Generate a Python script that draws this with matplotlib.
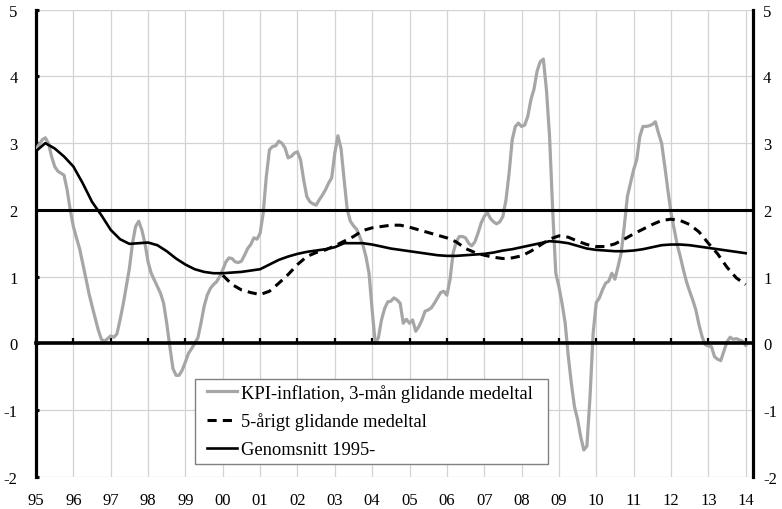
import numpy as np
import matplotlib
matplotlib.use("Agg")
import matplotlib.pyplot as plt
from matplotlib.patches import Rectangle

plt.rcParams['font.family'] = ['Liberation Serif', 'DejaVu Serif']

# ---- data ----
start_year = 1995
# KPI-inflation, 3-month moving average, monthly Jan 1995 - Jan 2014
kpi = [
    2.91, 2.98, 3.05, 3.08, 3.0, 2.8, 2.65, 2.58, 2.55, 2.52, 2.3, 2.0,
    1.75, 1.58, 1.42, 1.2, 0.98, 0.75, 0.56, 0.38, 0.2, 0.06, 0.03, 0.07,
    0.11, 0.09, 0.14, 0.35, 0.58, 0.85, 1.12, 1.5, 1.75, 1.83, 1.7, 1.5,
    1.22, 1.05, 0.95, 0.85, 0.75, 0.6, 0.3, -0.05, -0.38, -0.48, -0.48, -0.4,
    -0.28, -0.15, -0.08, 0.0, 0.08, 0.3, 0.55, 0.72, 0.82, 0.88, 0.92, 1.0,
    1.1, 1.22, 1.28, 1.27, 1.22, 1.21, 1.23, 1.32, 1.42, 1.48, 1.58, 1.56,
    1.65, 1.95, 2.5, 2.9, 2.95, 2.96, 3.03, 3.0, 2.93, 2.78, 2.8, 2.85,
    2.87, 2.75, 2.45, 2.2, 2.12, 2.09, 2.07, 2.15, 2.22, 2.3, 2.4, 2.48,
    2.85, 3.11, 2.92, 2.45, 2.0, 1.83, 1.76, 1.71, 1.6, 1.48, 1.3, 1.05,
    0.5, 0.0, 0.08, 0.35, 0.52, 0.62, 0.63, 0.68, 0.65, 0.6, 0.3, 0.36,
    0.3, 0.35, 0.18, 0.25, 0.35, 0.48, 0.5, 0.53, 0.6, 0.68, 0.76, 0.78,
    0.72, 0.95, 1.35, 1.52, 1.6, 1.6, 1.58, 1.5, 1.46, 1.52, 1.65, 1.8,
    1.9, 1.96, 1.87, 1.82, 1.79, 1.82, 1.9, 2.15, 2.55, 3.05, 3.25, 3.3,
    3.25, 3.27, 3.4, 3.65, 3.81, 4.08, 4.22, 4.26, 3.8, 3.1, 2.0, 1.05,
    0.85, 0.6, 0.31, -0.19, -0.6, -0.95, -1.14, -1.4, -1.6, -1.54, -0.8, 0.15,
    0.61, 0.68, 0.8, 0.9, 0.93, 1.05, 0.96, 1.15, 1.35, 1.75, 2.2, 2.4,
    2.6, 2.75, 3.1, 3.25, 3.25, 3.26, 3.28, 3.32, 3.15, 3.0, 2.66, 2.3,
    1.96, 1.72, 1.48, 1.3, 1.1, 0.92, 0.78, 0.65, 0.5, 0.28, 0.1, -0.02,
    -0.04, -0.05, -0.2, -0.24, -0.26, -0.12, 0.02, 0.09, 0.06, 0.07, 0.05, 0.03,
    -0.03,
]

# Average since 1995, read quarterly (every 3 months from Jan 1995)
avg_since_1995 = [
    2.88, 3.0, 2.92, 2.8, 2.65, 2.4, 2.12, 1.92, 1.7, 1.56,
    1.49, 1.5, 1.51, 1.47, 1.38, 1.27, 1.18, 1.11, 1.07, 1.05,
    1.05, 1.06, 1.07, 1.09, 1.11, 1.18, 1.25, 1.3, 1.34, 1.37,
    1.39, 1.41, 1.44, 1.5, 1.5, 1.5, 1.48, 1.45, 1.42, 1.4,
    1.38, 1.36, 1.34, 1.32, 1.31, 1.31, 1.32, 1.33, 1.34, 1.36,
    1.39, 1.41, 1.44, 1.47, 1.5, 1.53, 1.52, 1.5, 1.46, 1.42,
    1.4, 1.39, 1.38, 1.38, 1.39, 1.41, 1.44, 1.47, 1.48, 1.48,
    1.47, 1.45, 1.43, 1.41, 1.39, 1.37, 1.35,
]

# 5-year moving average, read quarterly from Jan 2000
ma5_start_month = 60
ma5 = [
    1.02, 0.88, 0.8, 0.76, 0.73, 0.78, 0.9, 1.03, 1.18, 1.3,
    1.36, 1.4, 1.46, 1.53, 1.6, 1.69, 1.73, 1.75, 1.77, 1.77,
    1.74, 1.7, 1.66, 1.62, 1.58, 1.52, 1.42, 1.36, 1.32, 1.29,
    1.27, 1.28, 1.31, 1.38, 1.47, 1.56, 1.61, 1.59, 1.53, 1.48,
    1.45, 1.45, 1.49, 1.56, 1.64, 1.71, 1.78, 1.84, 1.86, 1.84,
    1.78, 1.67, 1.5, 1.34, 1.14, 0.98, 0.88,
]

target = 2.0
year_ticks = list(range(1995, 2015))
year_labels = ["95", "96", "97", "98", "99", "00", "01", "02", "03", "04",
               "05", "06", "07", "08", "09", "10", "11", "12", "13", "14"]
y_ticks = [-2, -1, 0, 1, 2, 3, 4, 5]

labels = ["KPI-inflation, 3-mån glidande medeltal",
          "5-årigt glidande medeltal",
          "Genomsnitt 1995-"]

# ---- x positions ----
t_kpi = start_year + np.arange(len(kpi)) / 12.0
t_avg = start_year + np.arange(len(avg_since_1995)) * 3 / 12.0
t_ma5 = start_year + (ma5_start_month + np.arange(len(ma5)) * 3) / 12.0

# ---- figure ----
W, H = 782, 510
fig = plt.figure(figsize=(W / 100, H / 100), dpi=100)
left, right, top, bottom = 36, 752.7, 10.7, 477.7
ax = fig.add_axes([left / W, 1 - bottom / H, (right - left) / W, (bottom - top) / H])

px_per_year = 37.35
ax.set_xlim(start_year, start_year + (right - left) / px_per_year)
ax.set_ylim(-2, 5)

grid_col = '#d3d3d3'
ax.set_xticks(year_ticks)
ax.set_yticks(y_ticks)
ax.grid(True, color=grid_col, lw=0.9, zorder=0)
ax.set_axisbelow(True)

tick_fs = 12

# series
l1, = ax.plot(t_kpi, kpi, color='#a6a6a6', lw=2.3, solid_joinstyle='round', zorder=3)
l2, = ax.plot(t_ma5, ma5, color='black', lw=2.2, dashes=(3, 2), zorder=4)
l3, = ax.plot(t_avg, avg_since_1995, color='black', lw=1.9, zorder=5)
ax.axhline(target, color='black', lw=2.2, zorder=6)

# spines
ax.spines['top'].set_visible(False)
for s in ['left', 'right']:
    ax.spines[s].set_linewidth(2.3)
    ax.spines[s].set_color('black')
ax.spines['bottom'].set_position(('data', 0))
ax.spines['bottom'].set_linewidth(2.6)
ax.spines['bottom'].set_zorder(7)

ax.tick_params(axis='x', direction='in', length=3.4, width=1.6, color='black',
               labelbottom=False)
ax.tick_params(axis='y', direction='in', length=2.5, width=2.2, color='black',
               left=True, right=True, labelleft=True, labelright=False,
               labelsize=tick_fs, pad=13.3)
ax.set_yticklabels([str(v) for v in y_ticks])

# right labels
ax2 = ax.twinx()
ax2.set_ylim(-2, 5)
ax2.set_yticks(y_ticks)
ax2.set_yticklabels([str(v) for v in y_ticks])
ax2.tick_params(axis='y', length=0, labelsize=tick_fs, pad=7.5)
for s in ax2.spines.values():
    s.set_visible(False)

# bottom labels
secx = ax.secondary_xaxis(0.0)
secx.set_xticks(year_ticks)
secx.set_xticklabels(year_labels)
secx.tick_params(axis='x', length=0, labelsize=tick_fs, pad=11)
secx.spines['bottom'].set_visible(False)

# legend box
box_l, box_t, box_r, box_b = 195, 380, 548, 465
fig.patches.append(Rectangle((box_l / W, 1 - box_b / H), (box_r - box_l) / W,
                             (box_b - box_t) / H, transform=fig.transFigure,
                             facecolor='white', edgecolor='#808080', lw=1.0,
                             zorder=10))
leg = fig.legend([l1, l2, l3], labels, loc='upper left',
                 bbox_to_anchor=(207 / W, 1 - 385 / H), borderaxespad=0,
                 fontsize=13.3, frameon=False, handlelength=1.62,
                 handletextpad=0.2, labelspacing=0.58, borderpad=0)
leg.set_zorder(11)

fig.savefig('out.png', dpi=100)
